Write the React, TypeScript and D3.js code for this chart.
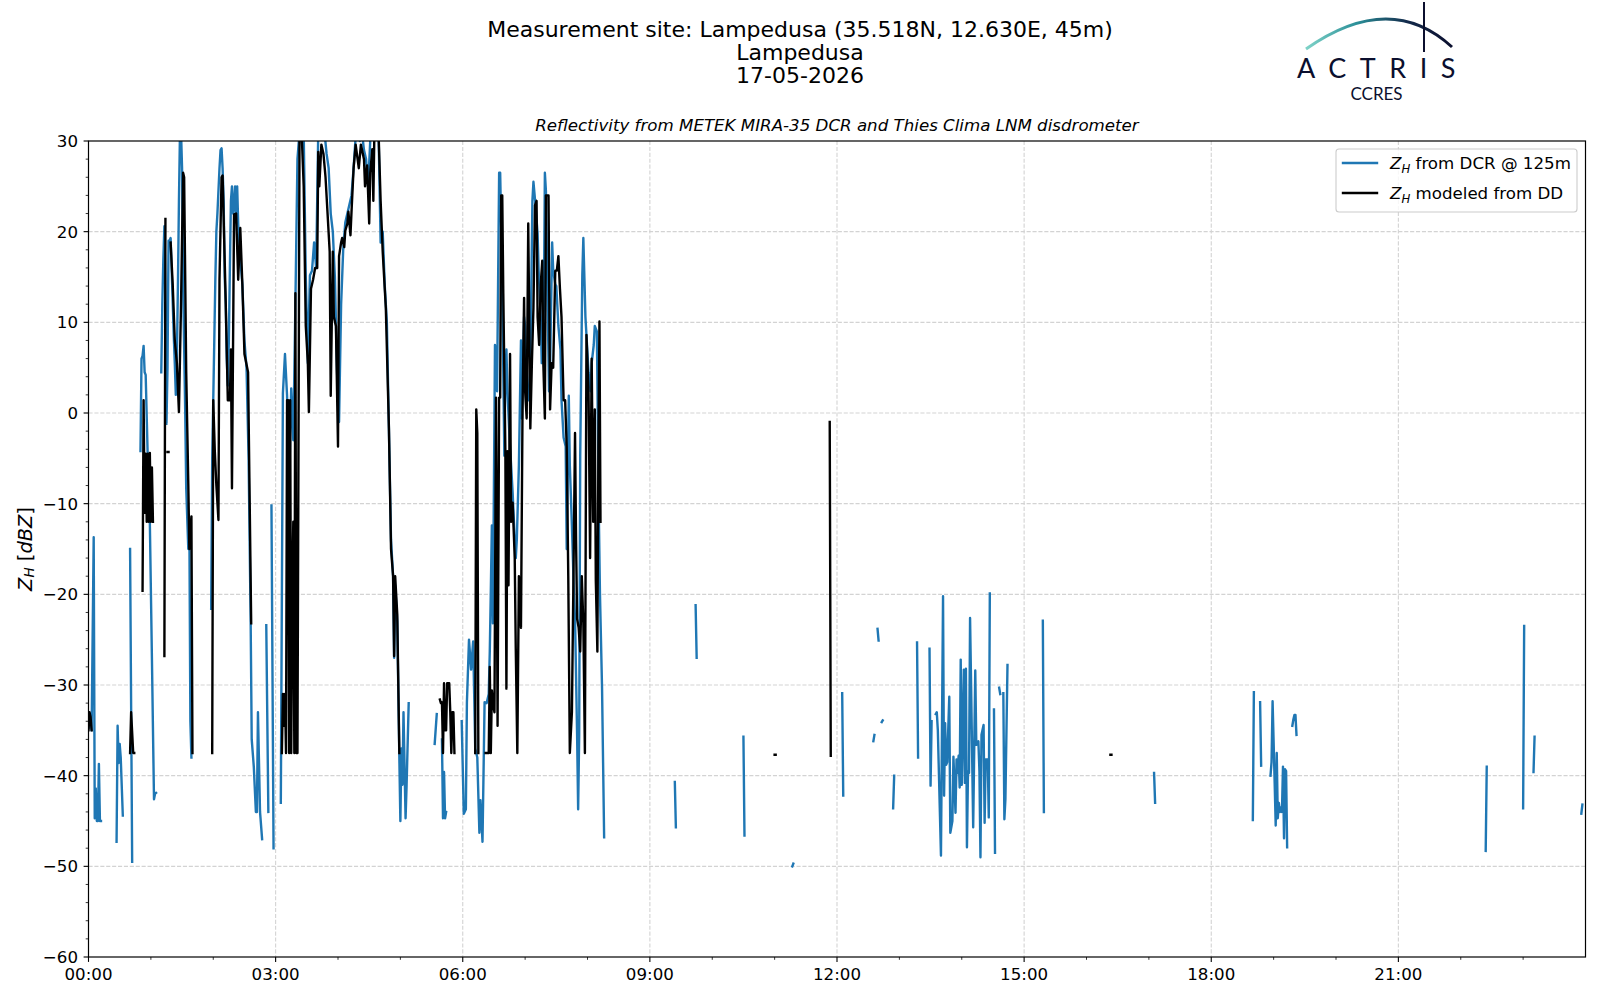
import * as d3 from "d3";

// minutes after 00:00 UTC, Z_H in dBZ; null marks a gap in the record
const dcrZh: [number, number | null][] = [
  [0, -34.7], [1, -33.5], [2, -34], [3, -35], [5, -13.7], [6, -44.7], [7, -41.4], [8, -45], [9, -45], [10, -38.7], [11, -45], [12, -45], [13, null],
  [27, -47.3], [28, -34.5], [29, -38.6], [30, -36.5], [31, -38], [33, -44.4], [34, null],
  [40, -15], [42, -49.5], [43, null],
  [50, -4.2], [51, 6], [52, 6.3], [53, 7.4], [54, 4.5], [55, 4.2], [57, -5], [59, -12], [61, -27], [63, -42.6], [64, -42], [65, -41.9], [66, null],
  [70, 4.5], [71, 12], [72, 17], [73, 20.6], [74, 14], [75, -1.2], [76, 5], [77, 19], [78, 19], [79, 19.3], [80, 15.8], [82, 8.6], [83, 5.5], [84, 2], [85, 6], [86, 14], [87, 23.4], [88, 31], [89, 31], [90, 27], [91, 14.2], [93, 0.4], [94, -8.3], [96, -15], [97, -12], [98, -34], [99, -38], [100, null],
  [118, -21.6], [119, -5], [120, 1.4], [121, 8], [122, 14.7], [123, 20], [124, 22], [126, 27], [127, 29], [128, 29.2], [129, 27], [130, 23.4], [131, 15], [132, 12], [133, 6], [134, 3], [135, 8], [136, 16], [137, 23.4], [138, 25], [139, 22], [140, 22.9], [141, 25], [142, 21], [143, 25], [144, 20.9], [146, 17], [148, 14.2], [150, 8], [152, 5], [154, -5], [156, -23.2], [157, -36], [159, -39], [161, -44], [162, -44], [163, -33], [165, -44], [167, -47], [168, null],
  [171, -23.4], [173, -44], [174, null],
  [176, -10.2], [178, -48], [179, null],
  [185, -43], [187, 2.2], [189, 6.5], [191, 1.9], [193, -8], [195, 2.7], [197, -3], [199, 12], [201, 28], [203, 31], [205, 31], [207, 31], [209, 15], [211, 5.5], [213, 15.2], [215, 15.7], [217, 18.8], [219, 16], [221, 31], [223, 31], [225, 30.5], [227, 31], [229, 28.6], [231, 27], [233, 22], [235, 20], [237, 15], [239, 5], [240, 0.9], [241, -1], [243, 12], [245, 18], [247, 21], [249, 22], [251, 23], [253, 24], [255, 27], [257, 30.5], [259, 31], [261, 30], [263, 31], [265, 29], [267, 28], [269, 25], [271, 30], [273, 31], [275, 31], [277, 31], [279, 31], [281, 18.8], [283, 20], [285, 14], [287, 10], [289, -2], [291, -14], [293, -18], [294, -27], [295, -19], [297, -23], [299, -38], [300, -45], [301, -37], [302, -41], [303, -33], [305, -44.7], [306, -41], [308, -32], [309, null],
  [333, -36.5], [335, -33.2], [336, null],
  [340, -36], [341, -44.7], [342, -39.6], [343, -44.7], [344, -44], [345, null],
  [359, -34], [361, -44.2], [363, -43.7], [364, -31.9], [366, -25], [368, -28.3], [370, -25.2], [372, -37], [374, -38], [376, -46.3], [377, -42.7], [379, -47.3], [381, -31.9], [383, -32], [385, -31], [386, -26.3], [387, -19.6], [388, -12.4], [389, -23.2], [391, 7.5], [392, 6.5], [393, 2.4], [395, 26.5], [396, 26.5], [398, 14.2], [400, -4.7], [401, 4], [402, 7], [403, 2.4], [405, -2.7], [406, -4.7], [408, -8.8], [410, -14], [411, -16], [412, -14], [414, -5.8], [416, 8], [417, -0.6], [419, 10.6], [420, 9.6], [421, 2.4], [423, 1.4], [425, 5], [427, 23.4], [428, 25.5], [430, 22.9], [432, 19.8], [433, 15.7], [435, 10.6], [436, 5.5], [438, 11.6], [439, 26.5], [440, 24.5], [441, 16.8], [443, 2.4], [444, 5], [446, 18.8], [447, 15.7], [449, 14.2], [450, 14], [452, 9.6], [454, 7], [455, 1.4], [457, -2.7], [459, -3.7], [460, -15], [462, 1.9], [463, -5.8], [465, -12.4], [467, -20.1], [468, -22.7], [470, -35.5], [471, -43.7], [472, -35.5], [473, -4.7], [475, 15.2], [476, 19.3], [478, 10.6], [479, 8.6], [481, 4.5], [483, 2.4], [484, 5.5], [486, 7.5], [487, 9.6], [489, 9], [491, -12], [492, -20], [494, -30.4], [496, -46.8], [497, null],
  [564, -40.7], [565, -45.7], [566, null],
  [584, -21.2], [585, -27], [586, null],
  [630, -35.7], [631, -46.6], [632, null],
  [677, -50], [678, -49.7], [679, null],
  [725, -30.9], [726, -42.2], [727, null],
  [755, -36.2], [756, -35.5], [757, null],
  [759, -23.8], [760, -25.1], [761, null],
  [763, -34.1], [764, -33.9], [765, null],
  [774, -43.6], [775, -40], [776, null],
  [797, -25.3], [798, -38], [799, null],
  [809, -26], [810, -41.1], [811, -34], [812, null],
  [815, -33.2], [816, -33], [817, -35], [820, -48.8], [822, -20.2], [823, -42.2], [824, -34.2], [825, -38.8], [826, -38.5], [828, -31.3], [829, -46.3], [831, -45], [832, -37.9], [834, -44.1], [835, -38.2], [836, -39.7], [837, -37.8], [838, -41.3], [839, -27.2], [840, -41], [842, -28.3], [843, -40.8], [844, -28.2], [845, -47.9], [846, -39.5], [847, -39.7], [848, -22.6], [849, -30], [851, -45.7], [853, -28.4], [854, -36.6], [856, -36.2], [857, -39.5], [858, -49], [859, -35.5], [861, -34.4], [862, -45.2], [863, -38.2], [865, -38.2], [866, -44.6], [867, -19.9], [868, null],
  [871, -32.7], [872, -48.5], [873, null],
  [876, -30.3], [877, -31], [878, null],
  [880, -30.9], [881, -44.8], [882, -42.6], [884, -27.8], [885, null],
  [918, -22.9], [919, -44], [920, null],
  [1025, -39.7], [1026, -43], [1027, null],
  [1120, -44.9], [1121, -30.8], [1122, null],
  [1127, -31.9], [1128, -38.9], [1129, null],
  [1137, -40], [1138, -38.5], [1139, -31.8], [1141, -40.8], [1142, -45.5], [1143, -37.5], [1144, -44.7], [1145, -43], [1146, -44], [1147, -43.5], [1148, -44], [1149, -39], [1150, -46.9], [1151, -39.3], [1152, -39.5], [1153, -47.9], [1154, null],
  [1158, -34.5], [1159, -33.8], [1160, -33.3], [1161, -33.3], [1162, -35.5], [1163, null],
  [1344, -48.3], [1345, -39], [1346, null],
  [1380, -43.6], [1381, -23.5], [1382, null],
  [1390, -39.6], [1391, -35.7], [1392, null],
  [1436, -44.2], [1437, -43.2],
];

const ddZh: [number, number | null][] = [
  [0, -35], [1, -33], [2, -33.5], [3, -35], [4, null],
  [40, -37.5], [41, -33], [43, -37.5], [44, -37.5], [45, null],
  [52, -19.6], [53, 1.4], [54, -11], [55, -4.5], [56, -12], [57, -4.5], [58, -12], [59, -4.4], [60, -12], [61, -6], [62, -12], [63, null],
  [73, -26.8], [74, 21.4], [75, null],
  [76, -4.3], [77, -4.3], [78, null],
  [79, 18.8], [81, 14.2], [83, 8], [85, 5.5], [87, 0.1], [89, 12], [91, 26.5], [92, 26], [94, 4.5], [96, -7.8], [97, -15], [99, -11.4], [100, -37.5], [101, null],
  [119, -37.5], [120, 1.4], [121.5, -4.2], [123, -8], [125, -11.8], [126, 14.7], [128, 26], [129, 26.2], [132, 12.2], [134, 1.4], [136, 1.4], [137, 7], [138, -8.3], [140, 21.9], [142, 22], [144, 14.7], [146, 20.4], [148, 14.2], [150, 6.5], [153.5, 4.5], [156.5, -23.2], [157, null],
  [186, -37.5], [187, -31], [188, -34.5], [189, -31], [190, -37.5], [191, 1.4], [192, 1.4], [193, -37.5], [194, 1.4], [195, -37.5], [196, -19.6], [197, -12], [198, -37.5], [199, 13.2], [200, -37.5], [201, -37.5], [203, 31], [205, 31], [207, 25], [209, 9.6], [211, 5.5], [212, 0.1], [214, 13.7], [216, 14.7], [218, 16], [220, 16], [221, 28.8], [222, 25], [224, 29.6], [226, 28.6], [228, 26], [230, 21.9], [232, 17.8], [233, 1.9], [235, 17.8], [236, 10.6], [238, 9.6], [240, -3.7], [241, 17.3], [243, 18.8], [244, 19.3], [246, 18.3], [247, 20.1], [249, 20.9], [250, 22.2], [252, 19.6], [253, 22.2], [255, 27], [257, 29.6], [260, 27], [262, 29.6], [265, 28], [266, 25], [268, 27.3], [270, 20.9], [271, 26.5], [273, 29.1], [274, 23.4], [275, 31], [277, 31], [279, 31], [281, 23.4], [283, 17.8], [286, 11.6], [289, -1.7], [291, -15], [293, -18], [294, -26.8], [295, -18], [297, -22.2], [299, -37.5], [300, null],
  [338, -31.6], [339, -32], [340, -31.9], [341, -37.5], [342, -29.8], [343, -35], [344, -35], [345, -29.8], [347, -29.8], [348, -33], [349, -37.5], [350, -33], [351, -33], [352, -37.5], [353, null],
  [372, -37.5], [373, 0.4], [374, -2.2], [375, -37.5], [376, null],
  [382, -37.5], [385, -37.5], [386, -28], [387, -37.5], [388, -30.6], [389.5, -32.4], [390.5, -33], [392, 1.7], [393.5, -34.5], [395, 1.7], [396, 1.7], [397, 24], [398, 24], [399, 13.2], [401, -4.2], [402, -30.4], [403, -4.2], [404, -19], [405.5, 6.5], [406.5, -12], [408, -9.9], [410, -16], [411, -26], [412.5, -37.5], [414, -18], [416, -23.7], [417.5, 0.4], [419, 12.7], [420, 2.4], [421.5, -0.6], [423, 20.9], [425, -1.7], [426.5, 5.5], [428, 11.6], [429.5, 22.9], [431, 23.4], [432, 10.6], [433.5, 7.5], [435, 14.2], [436.5, 16.8], [437.5, 5.5], [439, -0.6], [440, 24], [442.5, 24], [444, 0.4], [445.5, 5.5], [447, 5], [449, 15.7], [450.5, 15.7], [452, 17.3], [453.5, 13.7], [455, 10.6], [457, 1.4], [458.5, 1.4], [460, -3.7], [461.5, -18], [463, -37.5], [465, -33], [466.5, -18], [468, -2.2], [469, -14], [470, -22.7], [471.5, -23.7], [473, -26.3], [474.5, -18], [476, -23.2], [477.5, -37.5], [479, 8.6], [481, 2.4], [482.5, -16], [484, 6], [485.5, -12], [487, 0.4], [488, -18.5], [489.5, -26.3], [490.5, -3.7], [491.5, 10.1], [492.5, -12], [493, null],
  [660, -37.7], [661, -37.7], [662, null],
  [713, -1], [714, -37.8], [715, null],
  [983, -37.7], [984, -37.7],
];

const xTickLabels = ["00:00", "03:00", "06:00", "09:00", "12:00", "15:00", "18:00", "21:00"];
const yTicks = [30, 20, 10, 0, -10, -20, -30, -40, -50, -60];
const titleLines = ["Measurement site: Lampedusa (35.518N, 12.630E, 45m)", "Lampedusa", "17-05-2026"];
const legendItems = [
  { color: "#1f77b4", label: " from DCR @ 125m" },
  { color: "#000", label: " modeled from DD" },
];

const W = 1600;
const H = 1000;
const left = 88.5;
const right = 1585.5;
const top = 141;
const bottom = 957;
const font = "DejaVu Sans, sans-serif";
const lw = 2.4;

export default function App() {
  const x = d3.scaleLinear().domain([0, 1440]).range([left, right]);
  const y = d3.scaleLinear().domain([-60, 30]).range([bottom, top]);

  const line = d3
    .line<[number, number | null]>()
    .defined((d) => d[1] !== null)
    .x((d) => x(d[0]))
    .y((d) => y(d[1] as number));

  const majorX = d3.range(0, 1440, 180);
  const minorX = d3.range(60, 1440, 60).filter((m) => m % 180 !== 0);
  const minorY = d3.range(-58, 30, 2).filter((v) => v % 10 !== 0);

  return (
    <div style={{ position: "absolute", left: 0, top: 0 }}>
      <svg width={W} height={H} viewBox={`0 0 ${W} ${H}`} style={{ display: "block", background: "#fff" }}>
        <defs>
          <clipPath id="plot">
            <rect x={left} y={top} width={right - left} height={bottom - top} />
          </clipPath>
          <linearGradient id="arc" x1="0" y1="0" x2="1" y2="0">
            <stop offset="0%" stopColor="#7fd3c8" />
            <stop offset="35%" stopColor="#2b8f98" />
            <stop offset="70%" stopColor="#13294a" />
            <stop offset="100%" stopColor="#0b0f2e" />
          </linearGradient>
        </defs>

        {/* title */}
        {titleLines.map((t, i) => (
          <text key={t} x={800} y={29 + i * 23} fontFamily={font} fontSize={22} textAnchor="middle" dominantBaseline="central" fill="#000">
            {t}
          </text>
        ))}
        <text x={(left + right) / 2} y={125.5} fontFamily={font} fontSize={16.67} fontStyle="italic" textAnchor="middle" dominantBaseline="central">
          Reflectivity from METEK MIRA-35 DCR and Thies Clima LNM disdrometer
        </text>

        {/* logo */}
        <g>
          <path d="M1306,49 Q1390,-10 1452,47" fill="none" stroke="url(#arc)" strokeWidth={3} />
          <line x1={1424} y1={2} x2={1424} y2={52} stroke="#0b0f2e" strokeWidth={2} />
          <text x={1297} y={78} fontFamily="Lato, sans-serif" fontSize={27} letterSpacing={13.5} fill="#0b0f2e">
            ACTRIS
          </text>
          <text x={1376.5} y={100} fontFamily="Lato, sans-serif" fontSize={17} textAnchor="middle" fill="#0b0f2e">
            CCRES
          </text>
        </g>

        {/* grid */}
        <g stroke="#d3d3d3" strokeWidth={1.1} strokeDasharray="4.1,1.8">
          {majorX.filter((m) => m > 0).map((m) => (
            <line key={m} x1={x(m)} x2={x(m)} y1={top} y2={bottom} />
          ))}
          {yTicks.filter((v) => v > -60 && v < 30).map((v) => (
            <line key={v} x1={left} x2={right} y1={y(v)} y2={y(v)} />
          ))}
        </g>

        {/* data */}
        <g clipPath="url(#plot)" fill="none" strokeWidth={lw} strokeLinejoin="round" strokeLinecap="square">
          <path d={line(dcrZh) ?? ""} stroke="#1f77b4" />
          <path d={line(ddZh) ?? ""} stroke="#000" />
        </g>

        {/* frame */}
        <rect x={left} y={top} width={right - left} height={bottom - top} fill="none" stroke="#000" strokeWidth={1.2} />

        {/* ticks */}
        <g stroke="#000">
          {majorX.map((m) => (
            <line key={m} x1={x(m)} x2={x(m)} y1={bottom} y2={bottom + 4.9} strokeWidth={1.1} />
          ))}
          {minorX.map((m) => (
            <line key={m} x1={x(m)} x2={x(m)} y1={bottom} y2={bottom + 2.8} strokeWidth={0.8} />
          ))}
          {yTicks.map((v) => (
            <line key={v} x1={left - 4.9} x2={left} y1={y(v)} y2={y(v)} strokeWidth={1.1} />
          ))}
          {minorY.map((v) => (
            <line key={v} x1={left - 2.8} x2={left} y1={y(v)} y2={y(v)} strokeWidth={0.8} />
          ))}
        </g>
        {majorX.map((m, i) => (
          <text key={m} x={x(m)} y={980} fontFamily={font} fontSize={16.67} textAnchor="middle">
            {xTickLabels[i]}
          </text>
        ))}
        {yTicks.map((v) => (
          <text key={v} x={78} y={y(v)} dy="0.36em" fontFamily={font} fontSize={16.67} textAnchor="end">
            {v < 0 ? `\u2212${Math.abs(v)}` : v}
          </text>
        ))}

        {/* y label */}
        <text transform={`translate(25,${(top + bottom) / 2}) rotate(-90)`} fontFamily={font} fontSize={19.4} textAnchor="middle" dominantBaseline="central">
          <tspan fontStyle="italic">Z</tspan>
          <tspan fontStyle="italic" fontSize={13.6} dy="4">H</tspan>
          <tspan dy="-4"> [</tspan>
          <tspan fontStyle="italic">dBZ</tspan>
          <tspan>]</tspan>
        </text>

        {/* legend */}
        <g>
          <rect x={1336} y={149} width={241} height={63} rx={3} fill="#fff" fillOpacity={0.8} stroke="#cccccc" strokeWidth={1.1} />
          {legendItems.map((it, i) => {
            const cy = 163 + i * 30;
            return (
              <g key={it.label}>
                <line x1={1343} x2={1377} y1={cy} y2={cy} stroke={it.color} strokeWidth={lw} strokeLinecap="square" />
                <text x={1390} y={cy} dy="0.36em" fontFamily={font} fontSize={16.67}>
                  <tspan fontStyle="italic">Z</tspan>
                  <tspan fontStyle="italic" fontSize={11.7} dy="3.5">H</tspan>
                  <tspan dy="-3.5">{it.label}</tspan>
                </text>
              </g>
            );
          })}
        </g>
      </svg>
    </div>
  );
}
